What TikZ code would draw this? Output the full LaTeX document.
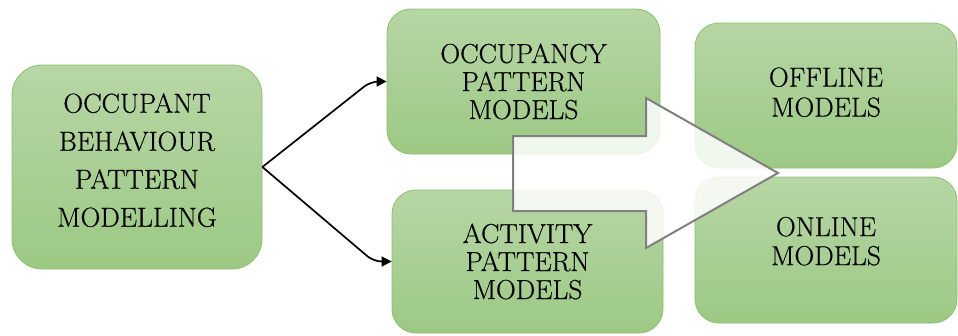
\documentclass[tikz,border=0pt]{standalone}
\usepackage{fontspec}
\usetikzlibrary{arrows.meta}
\newfontfamily\labelfont{Latin Modern Roman}[FakeBold=0.5]
\definecolor{boxtop}{RGB}{183,214,165}
\definecolor{boxbot}{RGB}{156,201,132}
\definecolor{boxedge}{RGB}{138,191,108}
\definecolor{arrowedge}{RGB}{128,128,128}
\begin{document}
\begin{tikzpicture}[x=1pt,y=-1pt,
  box/.style={draw=boxedge, line width=0.8pt, rounded corners=24pt,
    top color=boxtop, bottom color=boxbot, align=center, inner sep=0pt,
    font=\labelfont\fontsize{27.5}{28}\selectfont},
  link/.style={draw=black, line width=1.7pt, rounded corners=8pt,
    -{Triangle[length=10pt,width=10pt]}},
  bigarrow/.style={draw=arrowedge, line width=2pt, fill=white, fill opacity=0.85}]
\useasboundingbox (0,0) rectangle (958,335);

% source box
\node[box, rounded corners=30pt, minimum width=250pt, minimum height=204pt,
  font=\labelfont\fontsize{27.5}{38}\selectfont] (obp) at (137,167)
  {OCCUPANT\\BEHAVIOUR\\PATTERN\\MODELLING\\[-24pt]};

% pattern model boxes
\node[box, minimum width=273pt, minimum height=145pt] (occ) at (523.5,81.5)
  {OCCUPANCY\\PATTERN\\MODELS};
\node[box, minimum width=271pt, minimum height=143pt] (act) at (527.5,261.5)
  {ACTIVITY\\PATTERN\\MODELS};

% model type boxes
\node[box, minimum width=262pt, minimum height=145pt,
  font=\labelfont\fontsize{27.5}{30}\selectfont] (off) at (826,95.5)
  {OFFLINE\\MODELS\\[-23pt]};
\node[box, minimum width=262pt, minimum height=146pt,
  font=\labelfont\fontsize{27.5}{29}\selectfont] (onl) at (826,250)
  {ONLINE\\MODELS\\[-11pt]};

% branching connectors
\draw[link] (obp.east) -- ([xshift=-16pt]occ.west) -- (occ.west);
\draw[link] (obp.east) -- ([xshift=-18pt]act.west) -- (act.west);

% large translucent block arrow
\coordinate (a0) at (513,136);
\draw[bigarrow] (a0) -- (646,136) -- (646,98) -- (778,173)
  -- (646,248) -- (646,211) -- (513,211) -- cycle;
\end{tikzpicture}
\end{document}
